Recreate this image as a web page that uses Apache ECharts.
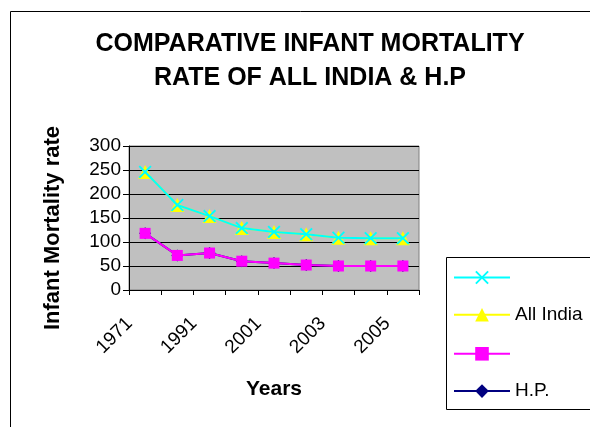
<!DOCTYPE html>
<html>
<head>
<meta charset="utf-8">
<script src="https://cdn.jsdelivr.net/npm/echarts@6/dist/echarts.min.js"></script>
<style>
  html, body { margin: 0; padding: 0; background: #fff; }
  #chart { width: 590px; height: 427px; }
</style>
</head>
<body>
<div id="chart"></div>
<script>
// years on the x axis (every other one gets a label)
var years = ['1971', '1981', '1991', '1996', '2001', '2002', '2003', '2004', '2005'];
// infant mortality rate
var allIndia = [246, 177, 154, 129, 121, 116, 109, 108, 108];
var hp = [118, 72, 77, 60, 56, 52, 50, 50, 50];
var yTicks = [0, 50, 100, 150, 200, 250, 300];

var FONT = '"Liberation Sans", Arial, sans-serif';
// X marker as a filled polygon
var CROSS = 'path://M0,1L1,0L5,4L9,0L10,1L6,5L10,9L9,10L5,6L1,10L0,9L4,5Z';

var chart = echarts.init(document.getElementById('chart'));

var option = {
  animation: false,
  backgroundColor: '#fff',
  textStyle: { fontFamily: FONT },
  title: {
    text: 'COMPARATIVE INFANT MORTALITY\nRATE OF ALL INDIA & H.P',
    left: 305,
    top: 22,
    textAlign: 'center',
    textStyle: {
      fontFamily: FONT,
      fontSize: 25,
      fontWeight: 'bold',
      lineHeight: 34,
      color: '#000'
    }
  },
  grid: {
    left: 129,
    top: 146,
    width: 290,
    height: 144,
    show: true,
    backgroundColor: '#C0C0C0',
    borderColor: '#808080',
    borderWidth: 1
  },
  legend: {
    orient: 'vertical',
    left: 448,
    top: 264,
    itemWidth: 56,
    itemHeight: 17,
    itemGap: 21,
    data: ['AI-line', 'All India', 'HP-line', 'H.P.'],
    formatter: function (name) {
      return (name === 'All India' || name === 'H.P.') ? name : '';
    },
    textStyle: { fontFamily: FONT, fontSize: 19, color: '#000' }
  },
  xAxis: {
    type: 'category',
    data: years,
    boundaryGap: true,
    name: 'Years',
    nameLocation: 'middle',
    nameGap: 89,
    nameTextStyle: { fontFamily: FONT, fontSize: 21, fontWeight: 'bold', color: '#000' },
    axisLine: { lineStyle: { color: '#000', width: 1 } },
    axisTick: { show: true, interval: 0, length: 5, lineStyle: { color: '#000' } },
    axisLabel: {
      interval: 1,
      rotate: 45,
      margin: 15,
      padding: [0, 22, 0, 0],
      fontFamily: FONT,
      fontSize: 19,
      color: '#000'
    },
    splitLine: { show: false }
  },
  yAxis: {
    type: 'value',
    min: yTicks[0],
    max: yTicks[yTicks.length - 1],
    interval: 50,
    axisLine: { show: true, lineStyle: { color: '#000', width: 1 } },
    axisTick: { show: true, length: 6, lineStyle: { color: '#000' } },
    axisLabel: { margin: 8, fontFamily: FONT, fontSize: 19, color: '#000' },
    splitLine: { show: true, lineStyle: { color: '#000', width: 1 } }
  },
  series: [
    {
      name: 'All India',
      type: 'line',
      data: allIndia,
      z: 2,
      symbol: 'triangle',
      symbolSize: 14,
      itemStyle: { color: '#FFFF00' },
      lineStyle: { color: '#FFFF00', width: 2 }
    },
    {
      name: 'AI-line',
      type: 'line',
      data: allIndia,
      z: 3,
      symbol: CROSS,
      symbolSize: 13,
      itemStyle: { color: '#00FFFF' },
      lineStyle: { color: '#00FFFF', width: 2 }
    },
    {
      name: 'H.P.',
      type: 'line',
      data: hp,
      z: 2,
      symbol: 'diamond',
      symbolSize: 12,
      itemStyle: { color: '#000080' },
      lineStyle: { color: '#000080', width: 2 }
    },
    {
      name: 'HP-line',
      type: 'line',
      data: hp,
      z: 3,
      symbol: 'rect',
      symbolSize: 11,
      itemStyle: { color: '#FF00FF' },
      lineStyle: { color: '#FF00FF', width: 2 }
    }
  ],
  graphic: [
    {
      type: 'rect',
      shape: { x: 10.5, y: 11.5, width: 700, height: 500 },
      style: { fill: null, stroke: '#000', lineWidth: 1 },
      silent: true
    },
    {
      type: 'rect',
      shape: { x: 446.5, y: 257.5, width: 200, height: 152 },
      style: { fill: null, stroke: '#000', lineWidth: 1 },
      silent: true
    },
    {
      type: 'text',
      x: 53,
      y: 228,
      rotation: Math.PI / 2,
      style: {
        text: 'Infant Mortality rate',
        font: 'bold 22px ' + FONT,
        fill: '#000',
        textAlign: 'center',
        textVerticalAlign: 'middle'
      }
    }
  ]
};

chart.setOption(option);
</script>
</body>
</html>
